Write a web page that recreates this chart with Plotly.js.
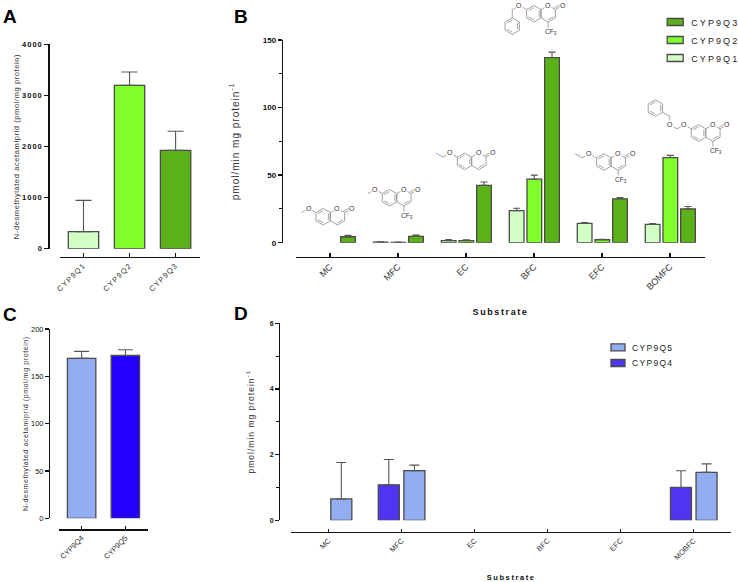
<!DOCTYPE html>
<html>
<head>
<meta charset="utf-8">
<script src="https://cdn.plot.ly/plotly-3.0.1.min.js"></script>
<style>
html,body{margin:0;padding:0;background:#fff}
#chart{width:738px;height:582px}
.xtick text{letter-spacing:1.2px}
.x2y2 .xtick text{letter-spacing:1.8px}
.x3y3 .xtick text{letter-spacing:1px}
.x4y4 .xtick text{letter-spacing:1.4px}
.ytick text{letter-spacing:1px}
.g-ytitle text{letter-spacing:.6px}
.g-y3title text{letter-spacing:.6px}
.g-y2title text,.g-y4title text{letter-spacing:1px}
.g-x2title text,.g-x4title text{letter-spacing:1.6px}
.scrollbox{clip-path:none !important}
#chart.ready .legendtext{letter-spacing:2.1px}
#chart.ready .legend2text{letter-spacing:1.3px}
</style>
</head>
<body>
<div id="chart"></div>
<script>
// ---- data ----
const catsA = ['CYP9Q1','CYP9Q2','CYP9Q3'];
const valsA = [333,3197,1925];
const errA  = [613,261,372];

const catsB = ['MC','MFC','EC','BFC','EFC','BOMFC'];
const q1B = [null,0.4,1.5,23.7,14.3,13.5];
const q1Berr = [null,0.3,0.9,1.8,0.7,0.7];
const q2B = [null,0.3,1.5,47,2.2,63];
const q2Berr = [null,0.2,0.7,3,0.3,1.6];
const q3B = [4.4,4.7,42.4,137,32.5,25];
const q3Berr = [1,0.9,2.5,4,1,1.8];

const catsC = ['CYP9Q4','CYP9Q5'];
const valsC = [169,172];
const errC  = [7.4,6];

const catsD = ['MC','MFC','EC','BFC','EFC','MOBFC'];
const q4D = [null,1.08,null,null,null,1.0];
const q4Derr = [null,0.77,null,null,null,0.51];
const q5D = [0.65,1.51,null,null,null,1.46];
const q5Derr = [1.11,0.17,null,null,null,0.26];

const GREEN1='#D2FFC4', GREEN2='#80FF2B', GREEN3='#5CB11A';
const BLUE_L='#93ADF2', BLUE_S='#2400FF', BLUE_D='#5035F0';
const EDGE='#4a4a4a', FONT='"Liberation Sans", Arial, sans-serif';

const zeros = a => a.map(v => v===null?null:0);
const px = x => x/738, py = y => 1-y/582;

function bar(name,x,y,err,color,xa,ya,width,offset,cap,legend){
  const t = {type:'bar',name,x,y,xaxis:xa,yaxis:ya,width,offset,
    marker:{color,line:{color:EDGE,width:1.3}},
    error_y:{type:'data',symmetric:false,array:err,arrayminus:zeros(err),color:'#555',thickness:1.1,width:cap},
    hoverinfo:'x+y',showlegend:!!legend};
  if(legend) t.legend=legend;
  return t;
}

const traces = [
  bar('A',catsA,valsA,errA,[GREEN1,GREEN2,GREEN3],'x','y',0.66,-0.33,8),
  bar('CYP9Q1',catsB,q1B,q1Berr,GREEN1,'x2','y2',0.216,-0.363,3.5,'legend'),
  bar('CYP9Q2',catsB,q2B,q2Berr,GREEN2,'x2','y2',0.216,-0.103,3.5,'legend'),
  bar('CYP9Q3',catsB,q3B,q3Berr,GREEN3,'x2','y2',0.216,0.157,3.5,'legend'),
  bar('C',catsC,valsC,errC,[BLUE_L,BLUE_S],'x3','y3',0.65,-0.325,7.5),
  bar('CYP9Q4',catsD,q4D,q4Derr,BLUE_D,'x4','y4',0.288,-0.319,5,'legend2'),
  bar('CYP9Q5',catsD,q5D,q5Derr,BLUE_L,'x4','y4',0.288,0.031,5,'legend2')
];

function xAxis(l,r,yLine,range,size,title,standoff){
  return {domain:[px(l),px(r)],anchor:'free',position:py(yLine),range,type:'category',
    showline:true,linecolor:'#111',linewidth:1.4,showgrid:false,zeroline:false,
    ticks:'inside',ticklen:3.5,tickwidth:1.3,tickcolor:'#111',tickangle:-45,
    tickfont:{family:FONT,size,color:'#333'},
    title: title?{text:title,font:{family:FONT,size:size,weight:700,color:'#111'},standoff}:undefined};
}
function yAxis(t,b,xLine,range,dtick,minor,size,weight,title,tsize,standoff){
  const a = {domain:[py(b),py(t)],anchor:'free',position:px(xLine),range,dtick,
    showline:true,linecolor:'#111',linewidth:1.4,showgrid:false,zeroline:false,
    ticks:'outside',ticklen:4,tickwidth:1.3,tickcolor:'#111',
    tickfont:{family:FONT,size,weight,color:'#111'},
    title:{text:title,font:{family:FONT,size:tsize,color:'#333'},standoff}};
  if(minor) a.minor={dtick:minor,ticks:'outside',ticklen:3,tickwidth:1.1,tickcolor:'#111'};
  return a;
}

// ---- structural formulae above panel B (decoration, in page pixels) ----
const R=8.3, H=R*Math.cos(Math.PI/6);
const molShapes=[], molLabels=[];
function seg(x1,y1,x2,y2){return 'M'+px(x1)+','+py(y1)+'L'+px(x2)+','+py(y2);}
function hexPath(cx,cy){
  let d='';
  for(let i=0;i<6;i++){
    const a=Math.PI/6+i*Math.PI/3, X=cx+R*Math.cos(a), Y=cy+R*Math.sin(a);
    d+=(i?'L':'M')+px(X)+','+py(Y);
  }
  return d+'Z';
}
function inner(cx,cy,i){
  const k=0.74, a=Math.PI/6+i*Math.PI/3, b=a+Math.PI/3;
  return seg(cx+k*R*Math.cos(a),cy+k*R*Math.sin(a),cx+k*R*Math.cos(b),cy+k*R*Math.sin(b));
}
function chain(ox,oy,pts){
  let d='';
  for(let i=0;i<pts.length-1;i++) d+=seg(ox+pts[i][0],oy+pts[i][1],ox+pts[i+1][0],oy+pts[i+1][1]);
  return d;
}
function label(x,y,text,size){
  molLabels.push({xref:'paper',yref:'paper',x:px(x),y:py(y),text,showarrow:false,
    xanchor:'center',yanchor:'middle',bgcolor:'#fff',borderpad:0,
    font:{family:FONT,size:size||7,color:'#333'}});
}
function molecule(cx,cy,kind,cf3){
  let d=hexPath(cx-H,cy)+hexPath(cx+H,cy);
  d+=inner(cx-H,cy,5)+inner(cx-H,cy,3)+inner(cx-H,cy,1);
  d+=inner(cx+H,cy,0);
  d+=seg(cx+2*H,cy-R/2,cx+3*H,cy-R)+seg(cx+2*H-1,cy-R/2-1.6,cx+3*H-1,cy-R-1.6);
  d+=chain(cx,cy,[[-2*H,-R/2],[-3*H,-R]]);
  if(kind==='methoxy') d+=chain(cx,cy,[[-3*H,-R],[-4*H,-R/2]]);
  if(kind==='ethoxy')  d+=chain(cx,cy,[[-3*H,-R],[-4*H,-R/2],[-5*H,-R]]);
  if(kind==='benzyl'){
    d+=chain(cx,cy,[[-3*H,-R],[-4*H,-R/2],[-4*H,R/2]]);
    const x0=cx-4*H,y0=cy+1.5*R;
    d+=hexPath(x0,y0)+inner(x0,y0,5)+inner(x0,y0,3)+inner(x0,y0,1);
  }
  if(kind==='bom'){
    d+=chain(cx,cy,[[-3*H,-R],[-4*H,-R/2],[-5*H,-R],[-5*H,-2*R],[-6*H,-2.5*R]]);
    const x0=cx-7*H,y0=cy-3*R;
    d+=hexPath(x0,y0)+inner(x0,y0,5)+inner(x0,y0,3)+inner(x0,y0,1);
    label(cx-5*H,cy-R,'O');
  }
  if(cf3) d+=chain(cx,cy,[[H,R],[H,R+6.5]]);
  molShapes.push({type:'path',xref:'paper',yref:'paper',path:d,layer:'above',line:{color:'#8a8a8a',width:0.8}});
  label(cx+H,cy-R,'O');
  label(cx+3*H,cy-R,'O');
  label(cx-3*H,cy-R,'O');
  if(cf3) label(cx+H+3,cy+R+10,'CF<sub>3</sub>',6.5);
}
molecule(330.3,216.7,'methoxy',false);
molecule(396.7,197.7,'methoxy',true);
molecule(471.7,161.3,'ethoxy',false);
molecule(541,13.7,'benzyl',true);
molecule(611,162,'ethoxy',true);
molecule(705.7,133,'bom',true);

const panel = (t,x,y)=>({xref:'paper',yref:'paper',x:px(x),y:py(y),text:'<b>'+t+'</b>',showarrow:false,
  xanchor:'left',yanchor:'middle',font:{family:FONT,size:19,color:'#000'}});

const layout = {
  width:738,height:582,margin:{l:0,r:0,t:0,b:0},paper_bgcolor:'#fff',plot_bgcolor:'rgba(0,0,0,0)',
  barmode:'overlay',autosize:false,
  xaxis: xAxis(60,200,256.7,[-0.51,2.53],7.5),
  yaxis: yAxis(44.3,248.7,48.3,[0,4000],1000,null,7.5,700,'N-desmethylated acetamiprid (pmol/mg protein)',7.5,0),
  xaxis2:xAxis(296,705,256.7,[-0.5,5.515],9,'Substrate',17),
  yaxis2:yAxis(40,242.7,281.7,[0,150],50,25,8,700,'pmol/min mg protein<sup>-1</sup>',10,20),
  xaxis3:xAxis(59.3,147.7,529.3,[-0.51,1.51],7.5),
  yaxis3:yAxis(329,518.3,49,[0,200],50,null,7.5,400,'N-desmethylated acetamiprid (pmol/mg protein)',7,0),
  xaxis4:xAxis(291.3,731,532,[-0.51,5.51],7.5,'Substrate',16),
  yaxis4:yAxis(323.3,520.3,279,[0,6],2,1,7,700,'pmol/min mg protein<sup>-1</sup>',8.5,12),
  legend:{x:px(651.2),y:py(12),xanchor:'left',yanchor:'top',traceorder:'reversed',bgcolor:'rgba(0,0,0,0)',
    font:{family:FONT,size:9,color:'#222'},itemwidth:30,tracegroupgap:0},
  legend2:{x:px(592),y:py(338),xanchor:'left',yanchor:'top',traceorder:'reversed',bgcolor:'rgba(0,0,0,0)',
    font:{family:FONT,size:8.5,color:'#222'},itemwidth:30,tracegroupgap:0},
  shapes:molShapes,
  annotations:[panel('A',1,16),panel('B',232,16),panel('C',1,314),panel('D',232,313.5)].concat(molLabels)
};

function placeLegend(sel,d,top,step){
  // flat, wide legend keys and the original's row spacing
  document.querySelectorAll(sel+' .legendpoints path').forEach(p=>p.setAttribute('d',d));
  const box=document.querySelector(sel);
  const base=box.getBoundingClientRect().top;
  document.querySelectorAll(sel+' .traces').forEach((t,i)=>t.setAttribute('transform','translate(0,'+(top-base+i*step)+')'));
}

Plotly.newPlot('chart',traces,layout,{staticPlot:true,displayModeBar:false}).then(gd=>{
  // letter-spacing is applied after layout so the wider legend text does not shrink the plot area
  gd.classList.add('ready');
  placeLegend('.legend','M12,3.5H-4V-3.5H12Z',22,18);
  placeLegend('.legend2','M13,3.5H-1V-3.5H13Z',347.3,15.7);
});
</script>
</body>
</html>
